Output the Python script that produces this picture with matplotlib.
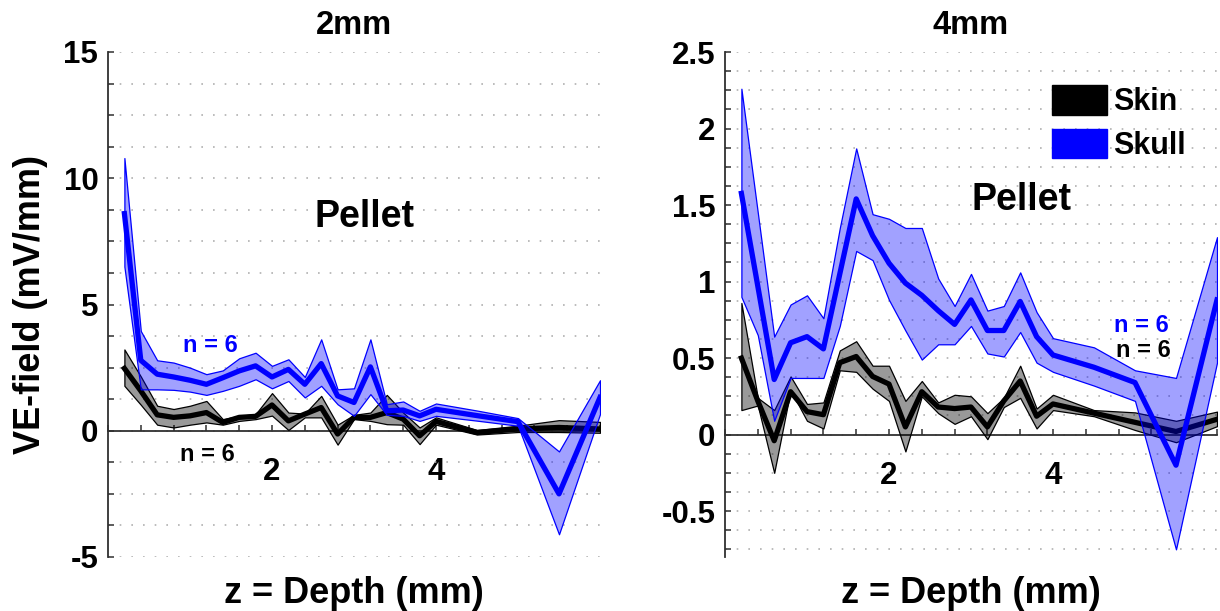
import matplotlib
matplotlib.use('Agg')
import matplotlib.pyplot as plt
from matplotlib.patches import Patch
from matplotlib.ticker import MultipleLocator, FixedLocator, FixedFormatter

plt.rcParams['font.family'] = ['Liberation Sans', 'DejaVu Sans']
plt.rcParams['font.weight'] = 'bold'
plt.rcParams['axes.unicode_minus'] = False

# ---------------- data ----------------
depth = [0.2, 0.4, 0.6, 0.8, 1.0, 1.2, 1.4, 1.6, 1.8, 2.0, 2.2, 2.4,
         2.6, 2.8, 3.0, 3.2, 3.4, 3.6, 3.8, 4.0, 4.5, 5.0, 5.5, 6.0]

# 2 mm panel
skin2_mean = [2.47, 1.58, 0.63, 0.53, 0.59, 0.72, 0.33, 0.53, 0.57, 1.02, 0.39, 0.66,
              0.92, -0.13, 0.53, 0.53, 0.72, 0.46, -0.20, 0.37, -0.07, 0.07, 0.13, 0.07]
skin2_hi = [3.22, 2.15, 0.99, 0.86, 0.99, 1.18, 0.46, 0.59, 0.66, 1.49, 0.72, 0.68,
            1.38, 0.24, 0.63, 0.72, 1.42, 0.72, 0.13, 0.53, 0.03, 0.20, 0.42, 0.35]
skin2_lo = [1.78, 1.03, 0.24, 0.13, 0.24, 0.33, 0.24, 0.39, 0.46, 0.60, 0.03, 0.53,
            0.53, -0.55, 0.46, 0.39, 0.26, 0.24, -0.53, 0.24, -0.15, -0.05, -0.05, -0.08]
skull2_mean = [8.60, 2.79, 2.24, 2.13, 2.00, 1.84, 2.10, 2.37, 2.57, 2.13, 2.43, 1.84,
               2.66, 1.38, 1.12, 2.53, 0.79, 0.82, 0.59, 0.85, 0.60, 0.36, -2.50, 1.32]
skull2_hi = [10.80, 3.95, 2.79, 2.70, 2.50, 2.24, 2.39, 2.87, 3.09, 2.57, 2.83, 2.13,
             3.62, 1.64, 1.68, 3.62, 1.05, 1.16, 0.79, 1.08, 0.80, 0.50, -0.82, 2.00]
skull2_lo = [6.50, 1.64, 1.64, 1.62, 1.55, 1.42, 1.58, 1.78, 2.04, 1.68, 1.97, 1.32,
             1.78, 1.05, 0.59, 1.45, 0.63, 0.59, 0.39, 0.59, 0.40, 0.20, -4.10, 0.66]

# 4 mm panel
skin4_mean = [0.50, 0.22, -0.04, 0.28, 0.15, 0.13, 0.47, 0.51, 0.38, 0.33, 0.05, 0.28,
              0.18, 0.17, 0.18, 0.05, 0.22, 0.35, 0.12, 0.20, 0.14, 0.08, 0.02, 0.10]
skin4_hi = [0.86, 0.24, 0.16, 0.38, 0.20, 0.21, 0.55, 0.61, 0.45, 0.45, 0.22, 0.35,
            0.21, 0.26, 0.25, 0.14, 0.24, 0.45, 0.17, 0.26, 0.16, 0.145, 0.09, 0.15]
skin4_lo = [0.16, 0.19, -0.25, 0.29, 0.09, 0.04, 0.42, 0.41, 0.30, 0.22, -0.11, 0.25,
            0.14, 0.07, 0.12, -0.03, 0.18, 0.24, 0.04, 0.16, 0.12, 0.03, -0.05, 0.055]
skull4_mean = [1.576, 0.97, 0.36, 0.60, 0.64, 0.56, 1.05, 1.54, 1.30, 1.12, 0.99, 0.91,
               0.81, 0.72, 0.88, 0.68, 0.68, 0.87, 0.64, 0.52, 0.44, 0.34, -0.20, 0.88]
skull4_hi = [2.26, 1.45, 0.64, 0.85, 0.91, 0.76, 1.35, 1.87, 1.44, 1.41, 1.35, 1.35,
             1.02, 0.84, 1.05, 0.81, 0.84, 1.06, 0.80, 0.63, 0.57, 0.42, 0.37, 1.29]
skull4_lo = [0.90, 0.65, 0.09, 0.37, 0.37, 0.37, 0.71, 1.20, 1.14, 0.88, 0.68, 0.49,
             0.59, 0.59, 0.71, 0.53, 0.51, 0.67, 0.47, 0.41, 0.32, 0.22, -0.75, 0.47]

titles = ['2mm', '4mm']
xtick_vals = [2, 4]
xtick_labels = ['2', '4']
ytick_vals_2 = [-5, 0, 5, 10, 15]
ytick_labels_2 = ['-5', '0', '5', '10', '15']
ytick_vals_4 = [-0.5, 0, 0.5, 1, 1.5, 2, 2.5]
ytick_labels_4 = ['-0.5', '0', '0.5', '1', '1.5', '2', '2.5']
legend_labels = ['Skin', 'Skull']

# ---------------- figure ----------------
W, H = 1220, 611
fig = plt.figure(figsize=(W / 100, H / 100), dpi=100)
ax1 = fig.add_axes([108 / W, 54 / H, 492 / W, 505 / H])
ax2 = fig.add_axes([725 / W, 54 / H, 492 / W, 505 / H])

BLUE_FACE = (0, 0, 1, 0.37)
GREY_FACE = (0, 0, 0, 0.40)


def draw(ax, sk_m, sk_hi, sk_lo, su_m, su_hi, su_lo):
    ax.fill_between(depth, sk_lo, sk_hi, facecolor=GREY_FACE, edgecolor='black',
                    linewidth=0.9, zorder=3)
    ax.plot(depth, sk_m, color='black', lw=3.8, zorder=4)
    ax.fill_between(depth, su_lo, su_hi, facecolor=BLUE_FACE, edgecolor='blue',
                    linewidth=0.9, zorder=5)
    ax.plot(depth, su_m, color='blue', lw=3.8, zorder=6)


def style(ax, ylim, yvals, ylabels, yminor, title):
    ax.set_xlim(0, 6)
    ax.set_ylim(*ylim)
    for s in ['top', 'right']:
        ax.spines[s].set_visible(False)
    ax.spines['bottom'].set_position(('data', 0))
    ax.spines['bottom'].set_color('#303030')
    ax.spines['left'].set_color('#303030')
    ax.spines['bottom'].set_linewidth(1.3)
    ax.spines['left'].set_linewidth(1.3)
    ax.spines['bottom'].set_zorder(2)
    ax.xaxis.set_major_locator(FixedLocator(xtick_vals))
    ax.xaxis.set_major_formatter(FixedFormatter(xtick_labels))
    ax.xaxis.set_minor_locator(MultipleLocator(0.4))
    ax.yaxis.set_major_locator(FixedLocator(yvals))
    ax.yaxis.set_major_formatter(FixedFormatter(ylabels))
    ax.yaxis.set_minor_locator(MultipleLocator(yminor))
    ax.tick_params(axis='x', which='both', direction='in', length=4, width=1.1,
                   color='#303030', pad=19, labelsize=22.5)
    ax.tick_params(axis='y', which='both', direction='in', length=4, width=1.1,
                   color='#303030', pad=7, labelsize=22.5)
    ax.grid(True, axis='y', which='both', linestyle=(0, (1, 6)), color='#b0b0b0',
            linewidth=1.2, zorder=0)
    ax.set_axisbelow(True)
    ax.set_title(title, fontsize=23.5, fontweight='bold', pad=13)
    ax.set_xlabel('z = Depth (mm)', fontsize=26, fontweight='bold')
    ax.xaxis.set_label_coords(0.5, -0.037)


draw(ax1, skin2_mean, skin2_hi, skin2_lo, skull2_mean, skull2_hi, skull2_lo)
draw(ax2, skin4_mean, skin4_hi, skin4_lo, skull4_mean, skull4_hi, skull4_lo)
style(ax1, (-5, 15), ytick_vals_2, ytick_labels_2, 1.25, titles[0])
style(ax2, (-0.8, 2.5), ytick_vals_4, ytick_labels_4, 0.125, titles[1])

ax1.set_ylabel('VE-field (mV/mm)', fontsize=26, fontweight='bold')
ax1.yaxis.set_label_coords(-0.122, 0.5)

ax1.text(3.13, 8.06, 'Pellet', fontsize=27, ha='center', va='baseline', zorder=8)
ax1.text(1.25, 3.10, 'n = 6', color='blue', fontsize=17, ha='center', va='baseline', zorder=8)
ax1.text(1.21, -1.19, 'n = 6', color='black', fontsize=17, ha='center', va='baseline', zorder=8)

ax2.text(3.62, 1.47, 'Pellet', fontsize=27, ha='center', va='baseline', zorder=8)
ax2.text(5.08, 0.67, 'n = 6', color='blue', fontsize=17, ha='center', va='baseline', zorder=8)
ax2.text(5.10, 0.51, 'n = 6', color='black', fontsize=17, ha='center', va='baseline', zorder=8)

handles = [Patch(facecolor='black', edgecolor='black'),
           Patch(facecolor='blue', edgecolor='blue')]
leg = ax2.legend(handles, legend_labels, loc='upper left', bbox_to_anchor=(0.665, 0.935),
                 frameon=False, fontsize=22, handlelength=1.8, handleheight=1.12,
                 handletextpad=0.2, labelspacing=0.38, borderpad=0, borderaxespad=0)
leg.set_zorder(10)

fig.savefig('out.png', dpi=100)
